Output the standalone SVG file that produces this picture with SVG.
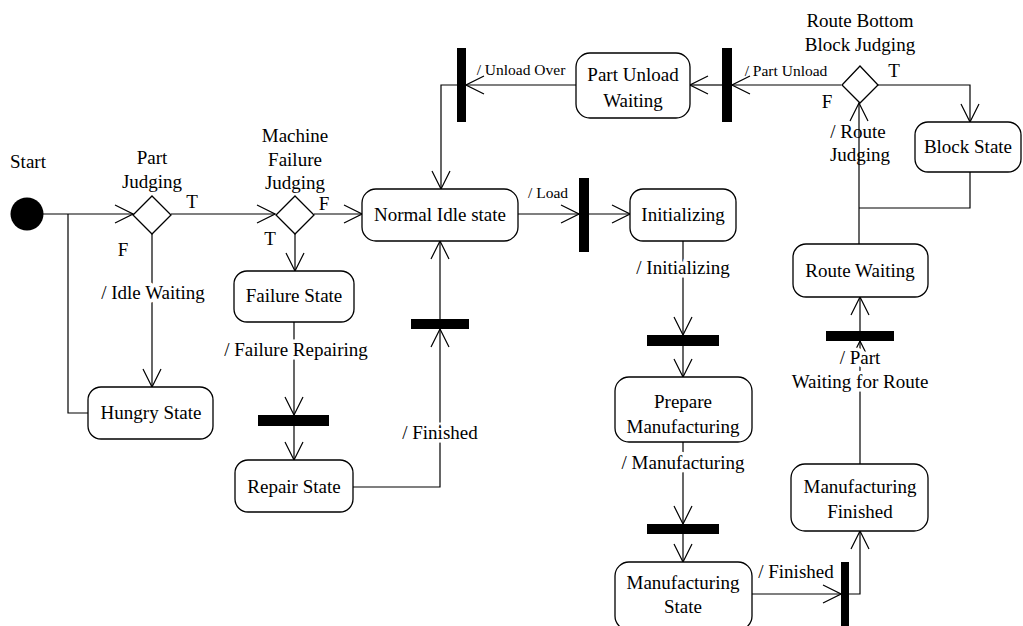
<svg xmlns="http://www.w3.org/2000/svg" width="1023" height="626" viewBox="0 0 1023 626">
<style>
.n{fill:#fff;stroke:#000;stroke-width:1.3}
.t{font-family:"Liberation Serif","Times New Roman",serif;font-size:19px;text-anchor:middle;fill:#000}
.s{font-family:"Liberation Serif","Times New Roman",serif;font-size:15.5px;text-anchor:middle;fill:#000}
.h{paint-order:stroke;stroke:#fff;stroke-width:7px;stroke-linejoin:round}
.c{fill:none;stroke:#000;stroke-width:1.2}
.a{marker-end:url(#v)}
.b{fill:#000}
</style>
<defs>
<marker id="v" markerUnits="userSpaceOnUse" viewBox="0 0 20 20" refX="19" refY="10" markerWidth="20" markerHeight="20" orient="auto">
<path d="M1,1 L19,10 L1,19" fill="none" stroke="#000" stroke-width="1.2"/>
</marker>
</defs>
<rect width="1023" height="626" fill="#fff"/>

<g id="connectors">
<path class="c a" d="M43,214 H133"/>
<path class="c" d="M68,214 V413 H88"/>
<path class="c a" d="M152,234 V387"/>
<path class="c a" d="M171,214 H275"/>
<path class="c a" d="M314,214 H362"/>
<path class="c a" d="M295,234 V271"/>
<path class="c a" d="M294,322 V415"/>
<path class="c a" d="M294,426 V460"/>
<path class="c a" d="M353,487 H440 V329"/>
<path class="c a" d="M440,319 V241"/>
<path class="c a" d="M518,214 H579"/>
<path class="c a" d="M589,214 H630"/>
<path class="c a" d="M683,241 V335"/>
<path class="c a" d="M683,346 V377"/>
<path class="c a" d="M683,442 V524"/>
<path class="c a" d="M683,534 V562"/>
<path class="c a" d="M752,594 H841"/>
<path class="c a" d="M849,594 H860 V531"/>
<path class="c a" d="M860,464 V341"/>
<path class="c a" d="M860,331 V297"/>
<path class="c a" d="M859,244 V103"/>
<path class="c a" d="M878,85 H970 V122"/>
<path class="c" d="M970,172 V208 H859"/>
<path class="c a" d="M841,85 H732"/>
<path class="c a" d="M722,85 H690"/>
<path class="c a" d="M576,85 H466"/>
<path class="c a" d="M457,85 H441 V189"/>
</g>

<g id="bars">
<rect class="b" x="258" y="415" width="71" height="11"/>
<rect class="b" x="411" y="319" width="58" height="10"/>
<rect class="b" x="579" y="178" width="10" height="74"/>
<rect class="b" x="647" y="335" width="72" height="11"/>
<rect class="b" x="647" y="524" width="72" height="10"/>
<rect class="b" x="841" y="562" width="8" height="64"/>
<rect class="b" x="826" y="331" width="68" height="10"/>
<rect class="b" x="457" y="48" width="9" height="74"/>
<rect class="b" x="722" y="48" width="10" height="74"/>
</g>

<g id="start"><circle cx="27" cy="214" r="16.5" fill="#000"/><text class="t" x="28" y="168">Start</text></g>

<g id="part-judging">
<path class="n" d="M152,196 L171,215 L152,234 L133,215 Z"/>
<text class="t" x="152" y="164">Part</text>
<text class="t" x="152" y="188">Judging</text>
<text class="t" x="192" y="208">T</text>
<text class="t" x="123" y="256">F</text>
</g>

<g id="machine-failure-judging">
<path class="n" d="M295,196 L314,215 L295,234 L276,215 Z"/>
<text class="t" x="295" y="142">Machine</text>
<text class="t" x="295" y="166">Failure</text>
<text class="t" x="295" y="189">Judging</text>
<text class="t" x="324" y="210">F</text>
<text class="t" x="270" y="245">T</text>
</g>

<g id="hungry-state"><rect class="n" x="88" y="387" width="125" height="52" rx="13"/><text class="t" x="151" y="419">Hungry State</text></g>
<g id="failure-state"><rect class="n" x="234" y="271" width="120" height="51" rx="13"/><text class="t" x="294" y="302">Failure State</text></g>
<g id="repair-state"><rect class="n" x="235" y="460" width="118" height="52" rx="13"/><text class="t" x="294" y="493">Repair State</text></g>
<g id="normal-idle-state"><rect class="n" x="362" y="189" width="156" height="52" rx="14"/><text class="t" x="440" y="221">Normal Idle state</text></g>
<g id="initializing"><rect class="n" x="630" y="189" width="106" height="52" rx="13"/><text class="t" x="683" y="221">Initializing</text></g>
<g id="prepare-manufacturing"><rect class="n" x="615" y="377" width="137" height="65" rx="14"/><text class="t" x="683" y="408">Prepare</text><text class="t" x="683" y="433">Manufacturing</text></g>
<g id="manufacturing-state"><rect class="n" x="615" y="562" width="137" height="68" rx="14"/><text class="t" x="683" y="589">Manufacturing</text><text class="t" x="683" y="613">State</text></g>
<g id="manufacturing-finished"><rect class="n" x="791" y="464" width="137" height="67" rx="14"/><text class="t" x="860" y="493">Manufacturing</text><text class="t" x="860" y="518">Finished</text></g>
<g id="route-waiting"><rect class="n" x="793" y="244" width="135" height="53" rx="13"/><text class="t" x="860" y="277">Route Waiting</text></g>
<g id="block-state"><rect class="n" x="915" y="122" width="106" height="50" rx="13"/><text class="t" x="968" y="153">Block State</text></g>
<g id="part-unload-waiting"><rect class="n" x="576" y="53" width="114" height="65" rx="14"/><text class="t" x="633" y="81">Part Unload</text><text class="t" x="633" y="107">Waiting</text></g>

<g id="route-bottom-block-judging">
<path class="n" d="M860,66 L878,85 L860,103 L842,85 Z"/>
<text class="t" x="860" y="27">Route Bottom</text>
<text class="t" x="860" y="51">Block Judging</text>
<text class="t" x="894" y="77">T</text>
<text class="t" x="827" y="108">F</text>
</g>

<g id="labels">
<text class="t h" x="153" y="299">/ Idle Waiting</text>
<text class="t h" x="296" y="356">/ Failure Repairing</text>
<text class="t h" x="440" y="439">/ Finished</text>
<text class="s" x="548" y="198">/ Load</text>
<text class="t h" x="683" y="274">/ Initializing</text>
<text class="t h" x="683" y="469">/ Manufacturing</text>
<text class="t" x="796" y="578">/ Finished</text>
<text class="t h" x="860" y="364">/ Part</text>
<text class="t h" x="860" y="388">Waiting for Route</text>
<text class="t" x="858" y="138">/ Route</text>
<text class="t" x="860" y="161">Judging</text>
<text class="s" x="786" y="76">/ Part Unload</text>
<text class="s" x="521" y="75">/ Unload Over</text>
</g>
</svg>
